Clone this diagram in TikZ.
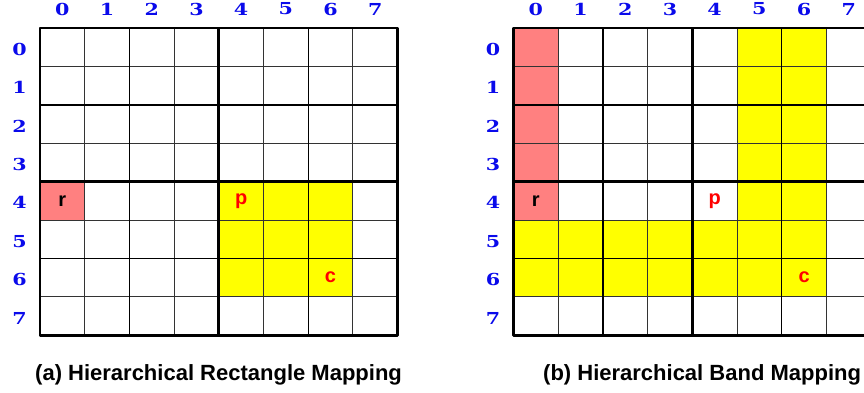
\documentclass[tikz,border=0pt]{standalone}
\usepackage{fontspec}
\setmainfont{Liberation Sans}
\newfontfamily\numfont{DejaVu Serif}[FakeStretch=1.25]
\definecolor{idxblue}{RGB}{10,10,235}
\definecolor{salmon}{RGB}{255,128,128}
\definecolor{hiyellow}{RGB}{255,255,0}
\newcommand{\cw}{44.7}
\newcommand{\rh}{38.4}
\newcommand{\cellfill}[4]{% color, x0, col, row
  \fill[#1] (#2+#3*\cw,28+#4*\rh) rectangle ++(\cw,\rh);}
\newcommand{\gridlines}[2]{% x0, name prefix
  \foreach \i in {1,3,5,7}{
    \draw[thinln] (#1+\i*\cw,28) -- ++(0,8*\rh);
    \draw[thinln] (#1,28+\i*\rh) -- ++(8*\cw,0);}
  \foreach \i in {2,6}{
    \draw[midln] (#1+\i*\cw,28) -- ++(0,8*\rh);
    \draw[midln] (#1,28+\i*\rh) -- ++(8*\cw,0);}
  \draw[thickln] (#1+4*\cw,28) -- ++(0,8*\rh);
  \draw[thickln] (#1,28+4*\rh) -- ++(8*\cw,0);
  \draw[thickln] (#1,28) rectangle ++(8*\cw,8*\rh);
  \foreach \i in {0,...,7}{
    \node[idx] (#2col\i) at (#1+\i*\cw+0.5*\cw,9) {\i};
    \node[idx] (#2row\i) at (#1-20.5,28+\i*\rh+0.5*\rh+2) {\i};}
}
\begin{document}
\begin{tikzpicture}[x=1pt,y=-1pt,
  thinln/.style={line width=0.9pt,black!80},
  midln/.style={line width=1.4pt,black},
  thickln/.style={line width=2.8pt,black,line join=round},
  idx/.style={text=idxblue,font=\numfont\bfseries\fontsize{16.5}{16.5}\selectfont,inner sep=0pt},
  cellred/.style={text=red,font=\bfseries\fontsize{20}{20}\selectfont,inner sep=0pt},
  cellblack/.style={text=black,font=\bfseries\fontsize{20}{20}\selectfont,inner sep=0pt},
  captext/.style={font=\bfseries\fontsize{22}{22}\selectfont,anchor=base west,inner sep=0pt}]
\useasboundingbox (0,0) rectangle (864,392);
\fill[white] (0,0) rectangle (864,392);
% ---------- (a) left grid ----------
\cellfill{salmon}{40}{0}{4}
\foreach \c in {4,5,6}{\foreach \r in {4,5,6}{\cellfill{hiyellow}{40}{\c}{\r}}}
\gridlines{40}{A}
\node[cellblack] (Ar) at (40+0.5*\cw,28+4.5*\rh) {r};
\node[cellred] (Ap) at (40+4.5*\cw,28+4.5*\rh) {p};
\node[cellred] (Ac) at (40+6.5*\cw,28+6.5*\rh) {c};
\node[captext] (capA) at (35,380) {(a) Hierarchical Rectangle Mapping};
% ---------- (b) right grid ----------
\foreach \r in {0,...,4}{\cellfill{salmon}{513.5}{0}{\r}}
\foreach \c in {5,6}{\foreach \r in {0,...,4}{\cellfill{hiyellow}{513.5}{\c}{\r}}}
\foreach \c in {0,...,6}{\foreach \r in {5,6}{\cellfill{hiyellow}{513.5}{\c}{\r}}}
\gridlines{513.5}{B}
\node[cellblack] (Br) at (513.5+0.5*\cw,28+4.5*\rh) {r};
\node[cellred] (Bp) at (513.5+4.5*\cw,28+4.5*\rh) {p};
\node[cellred] (Bc) at (513.5+6.5*\cw,28+6.5*\rh) {c};
\node[captext] (capB) at (543,380) {(b) Hierarchical Band Mapping};
\end{tikzpicture}
\end{document}
